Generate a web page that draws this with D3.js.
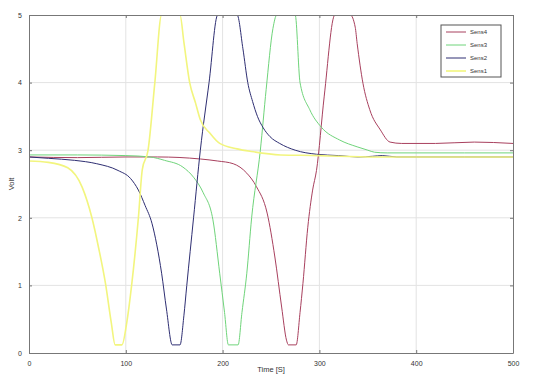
<!DOCTYPE html>
<html>
<head>
<meta charset="utf-8">
<script src="https://cdn.jsdelivr.net/npm/d3@7"></script>
<style>
  body { margin: 0; background: #fff; }
  text { font-family: "Liberation Sans", Arial, sans-serif; }
</style>
</head>
<body>
<div id="chart"></div>
<script>
// values
const xTicks = [0, 100, 200, 300, 400, 500];
const yTicks = [0, 1, 2, 3, 4, 5];

const sens1T = [0, 20, 40, 55, 65, 72, 79, 85, 89, 96, 101, 106, 113, 117, 123, 130, 137, 156, 160, 166, 172, 177, 187, 197, 215, 230, 260, 300, 320, 360, 400, 450, 500];
const sens1V = [2.84, 2.82, 2.74, 2.45, 2.0, 1.55, 1.03, 0.45, 0.12, 0.12, 0.45, 1.0, 2.0, 2.71, 3.0, 4.0, 5.0, 5.0, 4.6, 4.0, 3.7, 3.45, 3.25, 3.1, 3.02, 2.98, 2.93, 2.92, 2.91, 2.9, 2.9, 2.9, 2.9];

const sens2T = [0, 20, 47, 70, 92, 105, 113, 120, 127, 132, 137, 142, 148, 156, 160, 163, 170, 177, 186, 195, 215, 221, 226, 231, 236, 242, 249, 259, 275, 297, 320, 340, 355, 365, 380, 400, 450, 500];
const sens2V = [2.9, 2.88, 2.85, 2.8, 2.7, 2.58, 2.41, 2.18, 1.92, 1.6, 1.18, 0.65, 0.12, 0.12, 0.55, 1.0, 2.0, 3.0, 4.0, 5.0, 5.0, 4.5, 4.0, 3.72, 3.5, 3.33, 3.2, 3.1, 3.0, 2.94, 2.92, 2.9, 2.91, 2.92, 2.9, 2.9, 2.9, 2.9];

const sens3T = [0, 50, 100, 125, 140, 159, 170, 180, 190, 197, 202, 206, 216, 220, 225, 230, 239, 245, 252, 256, 275, 280, 290, 302, 321, 339, 350, 357, 370, 400, 450, 500];
const sens3V = [2.93, 2.93, 2.92, 2.9, 2.85, 2.75, 2.6, 2.37, 1.97, 1.18, 0.6, 0.12, 0.12, 0.6, 1.18, 2.0, 3.0, 3.9, 4.8, 5.0, 5.0, 4.0, 3.6, 3.34, 3.15, 3.05, 3.0, 2.97, 2.96, 2.96, 2.96, 2.96];

const sens4T = [0, 50, 100, 133, 177, 195, 211, 225, 235, 246, 254, 261, 266, 268, 276, 280, 283, 288, 293, 297, 305, 316, 332, 337, 339, 345, 352, 363, 373, 385, 420, 460, 500];
const sens4V = [2.9, 2.89, 2.9, 2.9, 2.87, 2.84, 2.8, 2.66, 2.46, 2.07, 1.42, 0.68, 0.19, 0.12, 0.12, 0.6, 1.03, 1.86, 2.41, 2.7, 3.8, 5.0, 5.0, 4.82, 4.58, 3.99, 3.6, 3.3, 3.12, 3.1, 3.1, 3.12, 3.1];

const seriesNames = ["Sens4", "Sens3", "Sens2", "Sens1"];
const seriesColors = ["#a8405e", "#6fd47a", "#2e2e72", "#f2f57e"];
const seriesT = [sens4T, sens3T, sens2T, sens1T];
const seriesV = [sens4V, sens3V, sens2V, sens1V];

const W = 540, H = 379;
const margin = { top: 15, right: 27, bottom: 26, left: 29 };
const width = W - margin.left - margin.right,
      height = H - margin.top - margin.bottom;

const svg = d3.select("#chart").append("svg")
  .attr("width", W)
  .attr("height", H);

const g = svg.append("g")
  .attr("transform", "translate(" + margin.left + "," + margin.top + ")");

const x = d3.scaleLinear().domain([0, 500]).range([0, width]);
const y = d3.scaleLinear().domain([0, 5]).range([height, 0]);

// grid
g.append("g")
  .selectAll("line.vg")
  .data(xTicks.slice(1, -1))
  .enter().append("line")
  .attr("x1", d => x(d)).attr("x2", d => x(d))
  .attr("y1", 0).attr("y2", height)
  .attr("stroke", "#e3e3e3").attr("stroke-width", 1);

g.append("g")
  .selectAll("line.hg")
  .data(yTicks.slice(1, -1))
  .enter().append("line")
  .attr("x1", 0).attr("x2", width)
  .attr("y1", d => y(d)).attr("y2", d => y(d))
  .attr("stroke", "#e3e3e3").attr("stroke-width", 1);

// series
svg.append("defs").append("clipPath").attr("id", "plotclip")
  .append("rect").attr("x", 0).attr("y", 0).attr("width", width).attr("height", height);

const line = d3.line()
  .x(d => x(d[0]))
  .y(d => y(d[1]))
  .curve(d3.curveMonotoneX);

seriesNames.forEach((name, i) => {
  const pts = seriesT[i].map((t, j) => [t, seriesV[i][j]]);
  g.append("path")
    .datum(pts)
    .attr("clip-path", "url(#plotclip)")
    .attr("fill", "none")
    .attr("stroke", seriesColors[i])
    .attr("stroke-width", i === 3 ? 1.6 : 1)
    .attr("d", line);
});

// axes (ticks inward, box on all sides)
function styleAxis(sel) {
  sel.select(".domain").attr("stroke", "#777");
  sel.selectAll(".tick line").attr("stroke", "#777");
  sel.selectAll(".tick text").attr("font-size", "7px").attr("fill", "#333")
    .style("font-family", "'Liberation Sans', Arial, sans-serif");
}

g.append("g")
  .attr("transform", "translate(0," + height + ")")
  .call(d3.axisBottom(x).tickValues(xTicks).tickFormat(d3.format("d")).tickSizeInner(-3).tickSizeOuter(0).tickPadding(8))
  .call(styleAxis);

g.append("g")
  .call(d3.axisTop(x).tickValues(xTicks).tickSizeInner(-3).tickSizeOuter(0).tickFormat(""))
  .call(styleAxis);

g.append("g")
  .call(d3.axisLeft(y).tickValues(yTicks).tickFormat(d3.format("d")).tickSizeInner(-3).tickSizeOuter(0).tickPadding(7))
  .call(styleAxis);

g.append("g")
  .attr("transform", "translate(" + width + ",0)")
  .call(d3.axisRight(y).tickValues(yTicks).tickSizeInner(-3).tickSizeOuter(0).tickFormat(""))
  .call(styleAxis);

// labels
svg.append("text")
  .attr("x", margin.left + width / 2)
  .attr("y", H - 7)
  .attr("text-anchor", "middle")
  .attr("font-size", "7.5px")
  .attr("fill", "#333")
  .text("Time [S]");

svg.append("text")
  .attr("transform", "translate(14," + (margin.top + height / 2) + ") rotate(-90)")
  .attr("text-anchor", "middle")
  .attr("font-size", "7.5px")
  .attr("fill", "#333")
  .text("Volt");

// legend
const legend = svg.append("g").attr("transform", "translate(441,25)");
legend.append("rect")
  .attr("width", 60).attr("height", 52)
  .attr("fill", "#fff").attr("stroke", "#555").attr("stroke-width", 1);

seriesNames.forEach((name, i) => {
  const ly = 7 + i * 13;
  legend.append("line")
    .attr("x1", 5).attr("x2", 25)
    .attr("y1", ly).attr("y2", ly)
    .attr("stroke", seriesColors[i])
    .attr("stroke-width", i === 3 ? 1.6 : 1);
  legend.append("text")
    .attr("x", 29).attr("y", ly + 2)
    .attr("font-size", "6px")
    .attr("fill", "#333")
    .text(name);
});
</script>
</body>
</html>
